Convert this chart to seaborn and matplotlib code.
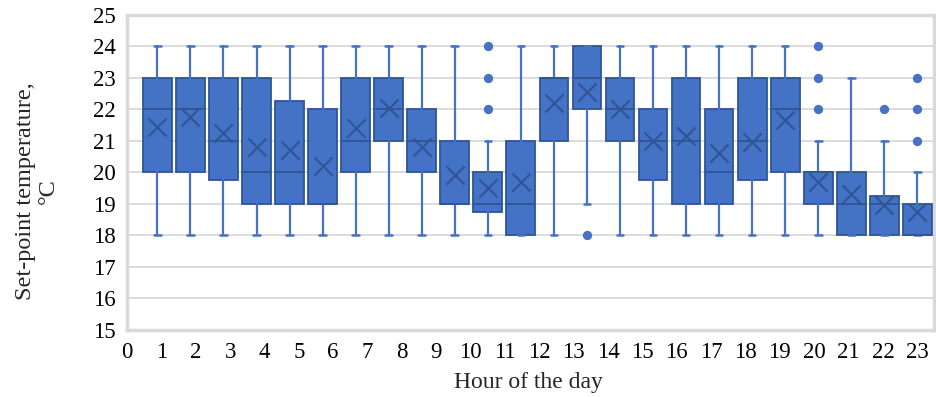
import numpy as np
import matplotlib.pyplot as plt
import seaborn as sns

# ===============================
# DATA
# ===============================
hours = list(range(24))
q1 = [20, 20, 19.75, 19, 19, 19, 20, 21, 20, 19, 18.75, 18,
      21, 22, 21, 19.75, 19, 19, 19.75, 20, 19, 18, 18, 18]
medians = [22, 22, 21, 20, 20, 19, 21, 22, 21, 19, 19, 19,
           23, 23, 22, 21, 21, 20, 21, 22, 20, 19, 19, 18]
q3 = [23, 23, 23, 23, 22.25, 22, 23, 23, 22, 21, 20, 21,
      23, 24, 23, 22, 23, 22, 23, 23, 20, 20, 19.25, 19]
whisk_lo = [18, 18, 18, 18, 18, 18, 18, 18, 18, 18, 18, 18,
            18, 19, 18, 18, 18, 18, 18, 18, 18, 18, 18, 18]
whisk_hi = [24, 24, 24, 24, 24, 24, 24, 24, 24, 24, 21, 24,
            24, 24, 24, 24, 24, 24, 24, 24, 21, 23, 21, 20]
means = [21.45, 21.75, 21.25, 20.8, 20.7, 20.2, 21.4, 22.05, 20.8, 19.9, 19.5, 19.7,
         22.2, 22.55, 22.0, 21.0, 21.15, 20.6, 20.95, 21.65, 19.7, 19.3, 18.95, 18.75]
outlier_hours = [10, 10, 10, 13, 20, 20, 20, 22, 23, 23, 23]
outlier_vals = [22, 23, 24, 18, 22, 23, 24, 22, 21, 22, 23]
hour_labels = [str(h) for h in hours]

# ===============================
# STYLING
# ===============================
sns.set_theme(style="white")
plt.rcParams["font.family"] = ["Liberation Serif", "DejaVu Serif"]
plt.rcParams["font.size"] = 16

FILL = "#4472C4"
EDGE = "#2F5597"
GRID = "#D9D9D9"

fig = plt.figure(figsize=(9.36, 3.97), dpi=100)
ax = fig.add_axes([0.1357, 0.169, 0.862, 0.794])

stats = []
for i in hours:
    stats.append({"med": medians[i], "q1": q1[i], "q3": q3[i],
                  "whislo": whisk_lo[i], "whishi": whisk_hi[i], "fliers": []})

ax.bxp(stats, positions=hours, widths=0.87, capwidths=0.2,
       patch_artist=True, showfliers=False,
       boxprops=dict(facecolor=FILL, edgecolor=EDGE, linewidth=1.3),
       medianprops=dict(color=EDGE, linewidth=1.3),
       whiskerprops=dict(color=FILL, linewidth=1.6),
       capprops=dict(color=FILL, linewidth=1.8),
       zorder=3)

# mean markers
sns.scatterplot(x=hours, y=means, marker="x", s=170, color=EDGE,
                linewidth=1.5, ax=ax, zorder=4, legend=False)
# outliers
sns.scatterplot(x=outlier_hours, y=outlier_vals, marker="o", s=45, color=FILL,
                edgecolor=FILL, linewidth=0, ax=ax, zorder=4, legend=False)

ax.set_xlim(-0.5, 23.5)
ax.set_ylim(15, 25)
ax.set_yticks(range(15, 26))
ax.yaxis.grid(True, color=GRID, linewidth=1.3, zorder=0)
ax.set_axisbelow(True)

ax.set_xticks(np.linspace(-0.92, 23.0, 24))
ax.set_xticklabels(hour_labels)
ax.tick_params(axis="both", length=0, labelsize=16.5, colors="black")
ax.tick_params(axis="x", pad=9)
ax.tick_params(axis="y", pad=8)

for sp in ax.spines.values():
    sp.set_color(GRID)
    sp.set_linewidth(2.5)

ax.set_xlabel("Hour of the day", fontsize=17)
ax.xaxis.set_label_coords(0.497, -0.132)
ax.set_ylabel("Set-point temperature,\n°C", fontsize=17.5, linespacing=1.1)
ax.yaxis.set_label_coords(-0.085, 0.44)

fig.savefig("out.png", dpi=100)
